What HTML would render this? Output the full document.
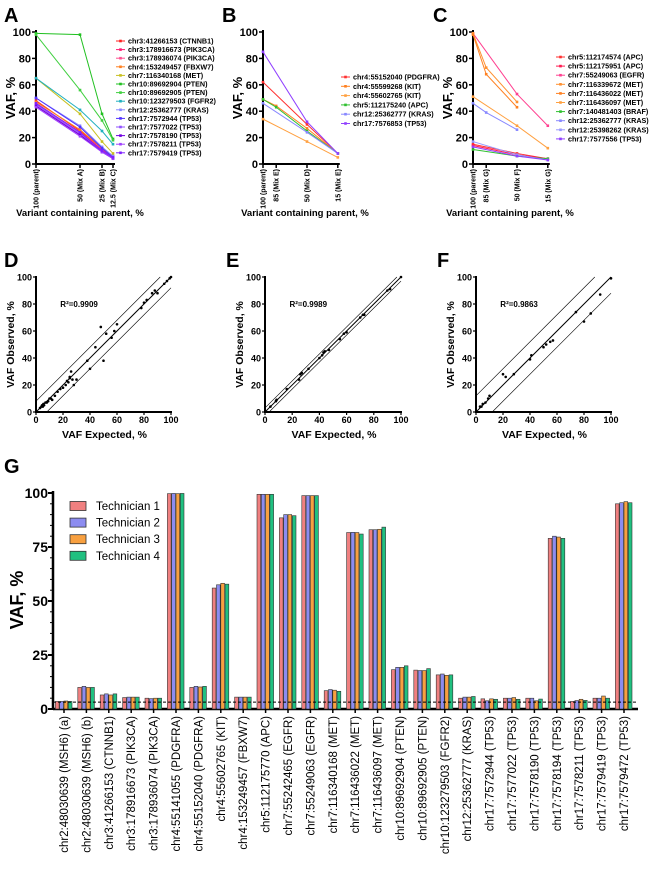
<!DOCTYPE html>
<html><head><meta charset="utf-8"><style>
html,body{margin:0;padding:0;background:#fff;}
svg{display:block;font-family:"Liberation Sans",Arial,sans-serif;}
</style></head><body>
<svg id="fig" width="650" height="885" viewBox="0 0 650 885" xmlns="http://www.w3.org/2000/svg"></svg>
<script>
// ---------- DATA ----------
const aX = [100, 50, 25, 12.5];
const aTicks = ["100 (parent)", "50 (Mix A)", "25 (Mix B)", "12.5 (Mix C)"];
const aNames = ["chr3:41266153 (CTNNB1)","chr3:178916673 (PIK3CA)","chr3:178936074 (PIK3CA)","chr4:153249457 (FBXW7)","chr7:116340168 (MET)","chr10:89692904 (PTEN)","chr10:89692905 (PTEN)","chr10:123279503 (FGFR2)","chr12:25362777 (KRAS)","chr17:7572944 (TP53)","chr17:7577022 (TP53)","chr17:7578190 (TP53)","chr17:7578211 (TP53)","chr17:7579419 (TP53)"];
const aColors = ["#ff2020","#ff1a70","#ff5090","#ff8020","#c8c020","#20c020","#40d040","#20b0c0","#8888ff","#5030ff","#9050ff","#7000e0","#a040ff","#8020ff"];
const aVals = [[48,25,12,6],[46,24,11,5],[44,22,10,5],[47,26,12,6],[65,38,17,8],[99,98,38,19],[98,56,33,18],[65,41,25,15],[50,29,13,6],[50,28,12,5],[45,23,10,5],[44,22,9,4],[43,21,9,4],[46,24,10,5]];

const bX = [100, 85, 50, 15];
const bTicks = ["100 (parent)", "85 (Mix E)", "50 (Mix D)", "15 (Mix E)"];
const bNames = ["chr4:55152040 (PDGFRA)","chr4:55599268 (KIT)","chr4:55602765 (KIT)","chr5:112175240 (APC)","chr12:25362777 (KRAS)","chr17:7576853 (TP53)"];
const bColors = ["#ff3030","#ff8020","#ffa040","#30c030","#8888ff","#9040ff"];
const bVals = [[62,null,30,8],[49,44,27,8],[34,null,17,5],[49,43,25,8],[46,null,24,8],[85,null,32,8]];

const cX = [100, 85, 50, 15];
const cTicks = ["100 (parent)", "85 (Mix G)", "50 (Mix F)", "15 (Mix G)"];
const cNames = ["chr5:112174574 (APC)","chr5:112175951 (APC)","chr7:55249063 (EGFR)","chr7:116339672 (MET)","chr7:116436022 (MET)","chr7:116436097 (MET)","chr7:140481403 (BRAF)","chr12:25362777 (KRAS)","chr12:25398262 (KRAS)","chr17:7577556 (TP53)"];
const cColors = ["#ff3030","#ff1a50","#ff4090","#ff9030","#ff8020","#ffa040","#30c030","#8888ff","#9898ff","#9040ff"];
const cVals = [[15,null,8,4],[14,null,7,4],[99,null,53,29],[99,73,47,null],[98,68,43,null],[51,null,29,12],[11,null,6,4],[46,39,26,null],[17,null,7,3],[13,null,6,3]];

const dExp = [3,4,4.5,5,5.5,6,7,9,10,11,12,14,16,18,20,22,23,24,25,26,27,28,30,38,40,44,48,50,52,56,58,60,78,80,82,86,88,90,95,97,99,100,5,8,25];
const dObs = [3,4,5,5,6,5,7,8,10,10,9,12,15,17,18,20,23,22,25,30,24,20,24,38,32,48,63,38,58,55,60,65,77,81,83,88,90,88,95,97,99,100,4,7,26];
const dR2 = "R\u00b2=0.9909";
const eExp = [4,8,8.5,16,25,26,27,32,40,42,43,44,47,55,58,60,70,72,73,90,92,100];
const eObs = [4,8,9,17,24,28,29,32,40,42,44,45,46,54,58,59,70,72,72,90,91,100];
const eR2 = "R\u00b2=0.9989";
const fExp = [3,4,5,7,9,10,20,22,28,40,41,50,52,55,57,74,80,85,92,100];
const fObs = [4,4,6,7,10,12,28,26,28,39,42,48,50,52,53,74,67,73,87,99];
const fR2 = "R\u00b2=0.9863";

const gCats = ["chr2:48030639 (MSH6) (a)","chr2:48030639 (MSH6) (b)","chr3:41266153 (CTNNB1)","chr3:178916673 (PIK3CA)","chr3:178936074 (PIK3CA)","chr4:55141055 (PDGFRA)","chr4:55152040 (PDGFRA)","chr4:55602765 (KIT)","chr4:153249457 (FBXW7)","chr5:112175770 (APC)","chr7:55242465 (EGFR)","chr7:55249063 (EGFR)","chr7:116340168 (MET)","chr7:116436022 (MET)","chr7:116436097 (MET)","chr10:89692904 (PTEN)","chr10:89692905 (PTEN)","chr10:123279503 (FGFR2)","chr12:25362777 (KRAS)","chr17:7572944 (TP53)","chr17:7577022 (TP53)","chr17:7578190 (TP53)","chr17:7578194 (TP53)","chr17:7578211 (TP53)","chr17:7579419 (TP53)","chr17:7579472 (TP53)"];
const gTech1 = [3.5,10,6.5,5.3,5,99.7,10,56,5.5,99.4,88.5,98.8,8.5,81.7,83,18.2,18,15.8,5,4.7,5,5,79,3.5,5,95];
const gTech2 = [3.5,10.5,7,5.5,4.8,99.8,10.5,57.5,5.5,99.4,90,98.8,9,81.8,83,19.3,17.8,16.2,5.5,3.8,5,5,80,3.9,5,95.5];
const gTech3 = [3.7,10,6.5,5.5,5,99.7,10.2,58.2,5.5,99.4,90,98.8,8.7,81.7,83.2,19.3,17.8,15.6,5.5,4.7,5.3,3.8,79.6,4.5,6,96];
const gTech4 = [3.5,10,7,5.5,5,99.8,10.5,57.8,5.5,99.4,89.5,98.8,8.2,81,84.2,20,18.7,15.8,5.8,4.5,4.5,4.6,79,4,5,95.5];
const gLegend = ["Technician 1","Technician 2","Technician 3","Technician 4"];
const gColors = ["#f08080","#8c8cf0","#f8a040","#20c080"];
const gTicks = [0,25,50,75,100];
const gThreshold = 3.2;

// ---------- HELPERS ----------
const svg = document.getElementById('fig');
const NS = "http://www.w3.org/2000/svg";
function mk(tag, attrs, parent, txt){
  const e = document.createElementNS(NS, tag);
  for (const k in attrs) e.setAttribute(k, attrs[k]);
  if (txt !== undefined) e.textContent = txt;
  (parent || svg).appendChild(e);
  return e;
}
function grp(name){
  const g = mk('g', {});
  
  
  return g;
}
function label(txt, x, y, name){
  const t = mk('text', {x:x, y:y, 'font-size':20, 'font-weight':'bold'}, svg, txt);
  
  
}

function linePanel(p){
  const g = grp(p.name);
  const sx = v => p.x0 + (100 - v) * p.kx;
  const sy = v => p.y0 - v * (p.y0 - p.y100) / 100;
  mk('line', {x1:p.x0, y1:p.y100-2, x2:p.x0, y2:p.y0, stroke:'#000','stroke-width':2}, g);
  mk('line', {x1:p.x0, y1:p.y0, x2:sx(p.xs[p.xs.length-1])+2, y2:p.y0, stroke:'#000','stroke-width':2}, g);
  for (let v = 0; v <= 100; v += 20){
    mk('line', {x1:p.x0-4, y1:sy(v), x2:p.x0, y2:sy(v), stroke:'#000','stroke-width':1.5}, g);
    const t = mk('text', {x:p.x0-5, y:sy(v)+4, 'font-size':11, 'font-weight':'bold', 'text-anchor':'end'}, g, v);
    
    
  }
  p.xs.forEach((v, i) => {
    mk('line', {x1:sx(v), y1:p.y0, x2:sx(v), y2:p.y0+4, stroke:'#000','stroke-width':1.5}, g);
    const t = mk('text', {x:0, y:0, 'font-size':7, 'font-weight':'bold', 'text-anchor':'end', transform:`translate(${sx(v)+2.5},${p.y0+5}) rotate(-90)`}, g, p.ticks[i]);
    
    
  });
  const yt = mk('text', {x:0, y:0, 'font-size':13, 'font-weight':'bold', 'text-anchor':'middle', transform:`translate(${p.x0-21},${(p.y0+p.y100)/2}) rotate(-90)`}, g, 'VAF, %');
  
  
  const xt = mk('text', {x:p.xtX, y:216, 'font-size':9.5, 'font-weight':'bold', 'text-anchor':'middle'}, g, 'Variant containing parent, %');
  
  
  p.vals.forEach((row, si) => {
    const pts = [];
    row.forEach((v, i) => { if (v !== null) pts.push([sx(p.xs[i]), sy(v)]); });
    const pl = mk('polyline', {points: pts.map(q => q.join(',')).join(' '), fill:'none', stroke:p.colors[si], 'stroke-width':1}, g);
    
    
    pts.forEach(q => {
      const c = mk('rect', {x:q[0]-1.3, y:q[1]-1.3, width:2.6, height:2.6, fill:p.colors[si]}, g);
      
      
    });
    const ly = p.ly + si * p.lsp;
    mk('line', {x1:p.lx, y1:ly, x2:p.lx+9, y2:ly, stroke:p.colors[si], 'stroke-width':1}, g);
    mk('rect', {x:p.lx+3.2, y:ly-1.3, width:2.6, height:2.6, fill:p.colors[si]}, g);
    const lt = mk('text', {x:p.lx+12, y:ly+2.5, 'font-size':7.2, 'font-weight':'bold'}, g, p.names[si]);
    
    
  });
}

const SY0 = 412, SY100 = 277;
function scatterPanel(p){
  const g = grp(p.name);
  const sx = v => p.x0 + v * (p.x100 - p.x0) / 100;
  const sy = v => SY0 - v * (SY0 - SY100) / 100;
  mk('line', {x1:p.x0, y1:SY100-1, x2:p.x0, y2:SY0+1, stroke:'#000','stroke-width':2}, g);
  mk('line', {x1:p.x0, y1:SY0, x2:p.x100+1, y2:SY0, stroke:'#000','stroke-width':2}, g);
  for (let v = 0; v <= 100; v += 20){
    mk('line', {x1:p.x0-3, y1:sy(v), x2:p.x0, y2:sy(v), stroke:'#000','stroke-width':1.2}, g);
    mk('line', {x1:sx(v), y1:SY0, x2:sx(v), y2:SY0+3, stroke:'#000','stroke-width':1.2}, g);
    const t1 = mk('text', {x:p.x0-4, y:sy(v)+3.5, 'font-size':9, 'font-weight':'bold', 'text-anchor':'end'}, g, v);
    
    
    const t2 = mk('text', {x:sx(v), y:423, 'font-size':9, 'font-weight':'bold', 'text-anchor':'middle'}, g, v);
    
    
  }
  const yt = mk('text', {x:0, y:0, 'font-size':10.5, 'font-weight':'bold', 'text-anchor':'middle', transform:`translate(${p.x0-22},${(SY0+SY100)/2}) rotate(-90)`}, g, 'VAF Observed, %');
  
  
  const xt = mk('text', {x:(p.x0+p.x100)/2+1, y:438, 'font-size':10.5, 'font-weight':'bold', 'text-anchor':'middle'}, g, 'VAF Expected, %');
  
  
  const rt = mk('text', {x:sx(p.r2x), y:307, 'font-size':8, 'font-weight':'bold'}, g, p.r2);
  
  
  const clip = (o) => {
    const a = Math.max(0, -o), b = Math.min(100, 100 - o);
    return [sx(a), sy(a+o), sx(b), sy(b+o)];
  };
  [[0,1],[p.band,0.6],[-p.band,0.6]].forEach(([o, w]) => {
    const c = clip(o);
    const l = mk('line', {x1:c[0], y1:c[1], x2:c[2], y2:c[3], stroke:'#000', 'stroke-width':w}, g);
    
    
  });
  p.ex.forEach((e, i) => {
    const c = mk('circle', {cx:sx(e), cy:sy(p.ob[i]), r:1.3, fill:'#000'}, g);
    
    
  });
}

// ---------- PANELS ----------
label('A', 4, 22, 'panel-a-label');
label('B', 222, 22, 'panel-b-label');
label('C', 433, 22, 'panel-c-label');
linePanel({name:'panel-a', xs:aX, ticks:aTicks, names:aNames, colors:aColors, vals:aVals, x0:36, kx:0.88, y0:164, y100:32, lx:116, ly:41, lsp:8.6, xtX:80});
linePanel({name:'panel-b', xs:bX, ticks:bTicks, names:bNames, colors:bColors, vals:bVals, x0:263, kx:0.88, y0:164, y100:32, lx:341, ly:77, lsp:9.3, xtX:305});
linePanel({name:'panel-c', xs:cX, ticks:cTicks, names:cNames, colors:cColors, vals:cVals, x0:473, kx:0.88, y0:164, y100:32, lx:556, ly:57, lsp:9.1, xtX:510});

label('D', 4, 267, 'panel-d-label');
label('E', 226, 267, 'panel-e-label');
label('F', 437, 267, 'panel-f-label');
scatterPanel({name:'panel-d', ex:dExp, ob:dObs, r2:dR2, x0:36, x100:171, band:8, r2x:18});
scatterPanel({name:'panel-e', ex:eExp, ob:eObs, r2:eR2, x0:265, x100:401, band:3, r2x:18});
scatterPanel({name:'panel-f', ex:fExp, ob:fObs, r2:fR2, x0:476, x100:611, band:12, r2x:18});

// ---------- PANEL G ----------
label('G', 4, 473, 'panel-g-label');
(function(){
  const g = grp('panel-g');
  const Y0 = 709, Y100 = 493, X0 = 53, X1 = 638;
  const sy = v => Y0 - v * (Y0 - Y100) / 100;
  const step = 22.4;
  const cx = i => 64 + step * i;
  const bw = 4.3;
  mk('line', {x1:X0, y1:Y100-2, x2:X0, y2:Y0+1, stroke:'#000','stroke-width':2.5}, g);
  mk('line', {x1:X0, y1:Y0, x2:X1, y2:Y0, stroke:'#000','stroke-width':2.5}, g);
  for (let v = 5; v < 100; v += 5){
    if (v % 25) mk('line', {x1:X0-3, y1:sy(v), x2:X0, y2:sy(v), stroke:'#000','stroke-width':1}, g);
  }
  gTicks.forEach(v => {
    mk('line', {x1:X0-5, y1:sy(v), x2:X0, y2:sy(v), stroke:'#000','stroke-width':2}, g);
    const t = mk('text', {x:X0-5, y:sy(v)+5, 'font-size':14, 'font-weight':'bold', 'text-anchor':'end'}, g, v);
    
    
  });
  const yt = mk('text', {x:0, y:0, 'font-size':18, 'font-weight':'bold', 'text-anchor':'middle', transform:'translate(23,600) rotate(-90)'}, g, 'VAF, %');
  
  
  const series = [gTech1, gTech2, gTech3, gTech4];
  gCats.forEach((cat, i) => {
    series.forEach((s, k) => {
      const x = cx(i) - 2*bw + k*bw;
      const r = mk('rect', {x:x, y:sy(s[i]), width:bw-0.6, height:Y0 - sy(s[i]), fill:gColors[k], stroke:'#333', 'stroke-width':0.6}, g);
      
      
    });
    mk('line', {x1:cx(i), y1:Y0, x2:cx(i), y2:Y0+4, stroke:'#000','stroke-width':1.5}, g);
    const t = mk('text', {x:0, y:0, 'font-size':11.5, 'text-anchor':'end', transform:`translate(${cx(i)+4},${Y0+7}) rotate(-90)`}, g, cat);
    
    
  });
  const dl = mk('line', {x1:X0, y1:sy(gThreshold), x2:X1, y2:sy(gThreshold), stroke:'#000', 'stroke-width':1, 'stroke-dasharray':'3,2'}, g);
  
  
  gLegend.forEach((n, k) => {
    const y = 506 + k * 16.6;
    mk('rect', {x:70, y:y-4.5, width:16, height:9, fill:gColors[k], stroke:'#333', 'stroke-width':0.8}, g);
    const t = mk('text', {x:96, y:y+4, 'font-size':11.5}, g, n);
    
    
  });
})();
</script>
</body></html>
